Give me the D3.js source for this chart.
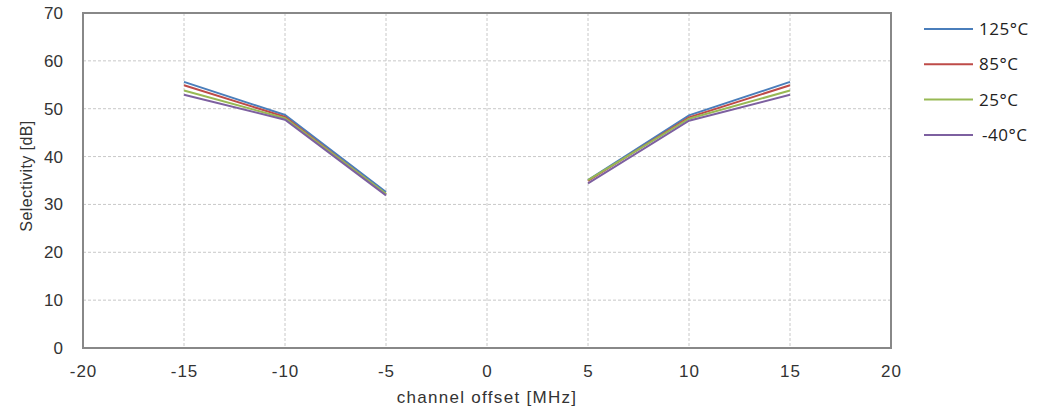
<!DOCTYPE html>
<html><head><meta charset="utf-8">
<script src="https://cdn.jsdelivr.net/npm/d3@7"></script>
<style>body{margin:0;background:#fff}</style>
</head><body>
<svg id="c" width="1051" height="409"></svg>
<script>
const offsets = [-15, -10, -5, 0, 5, 10, 15];
const series = ["125°C", "85°C", "25°C", "-40°C"];
const s125 = [55.6, 48.7, 32.6, null, 35.1, 48.6, 55.6];
const s85  = [54.9, 48.3, 32.1, null, 34.9, 48.2, 54.9];
const s25  = [53.8, 48.0, 32.2, null, 35.1, 47.9, 53.8];
const sm40 = [52.9, 47.7, 31.9, null, 34.4, 47.5, 52.9];
const xTicks = [-20, -15, -10, -5, 0, 5, 10, 15, 20];
const yTicks = [0, 10, 20, 30, 40, 50, 60, 70];
const colors = ["#4a7ebb", "#be4b48", "#98b954", "#7d60a0"];
const values = [s125, s85, s25, sm40];

const svg = d3.select("#c");
const L = 83, R = 891, T = 13, B = 348;
const x = d3.scaleLinear().domain([-20, 20]).range([L, R]);
const y = d3.scaleLinear().domain([0, 70]).range([B, T]);

// grid
svg.append("g").selectAll("line").data(yTicks.slice(1, -1)).join("line")
  .attr("x1", L).attr("x2", R).attr("y1", d => y(d)).attr("y2", d => y(d))
  .attr("stroke", "#c8c8c8").attr("stroke-dasharray", "3,2").attr("stroke-width", 1);
svg.append("g").selectAll("line").data(xTicks.slice(1, -1)).join("line")
  .attr("y1", T).attr("y2", B).attr("x1", d => x(d)).attr("x2", d => x(d))
  .attr("stroke", "#c8c8c8").attr("stroke-dasharray", "3,2").attr("stroke-width", 1);

// axes
const fontFam = "'Liberation Sans', Arial, sans-serif";
const xa = svg.append("g").attr("transform", `translate(0,${B})`)
  .call(d3.axisBottom(x).tickValues(xTicks).tickSize(0).tickPadding(17).tickFormat(d => d < 0 ? "-" + Math.abs(d) : d));
xa.select(".domain").remove();
xa.selectAll("text").attr("font-family", fontFam).attr("font-size", 17).attr("fill", "#333").attr("letter-spacing", 1);
const ya = svg.append("g").attr("transform", `translate(${L},0)`)
  .call(d3.axisLeft(y).tickValues(yTicks).tickSize(0).tickPadding(20));
ya.select(".domain").remove();
ya.selectAll("text").attr("font-family", fontFam).attr("font-size", 17).attr("fill", "#333");

// border
svg.append("rect").attr("x", L).attr("y", T).attr("width", R - L).attr("height", B - T)
  .attr("fill", "none").attr("stroke", "#888").attr("stroke-width", 2);

// lines
const line = d3.line().defined(d => d[1] !== null).x(d => x(d[0])).y(d => y(d[1]));
values.forEach((vals, i) => {
  svg.append("path").datum(offsets.map((o, j) => [o, vals[j]]))
    .attr("d", line).attr("fill", "none").attr("stroke", colors[i]).attr("stroke-width", 2);
});

// titles
svg.append("text").attr("x", x(0)).attr("y", 403).attr("text-anchor", "middle")
  .attr("font-family", fontFam).attr("font-size", 17).attr("letter-spacing", 1.3).attr("fill", "#333").text("channel offset [MHz]");
svg.append("text").attr("transform", `translate(32,${176}) rotate(-90)`).attr("text-anchor", "middle")
  .attr("font-family", fontFam).attr("font-size", 16).attr("letter-spacing", 0.4).attr("fill", "#333").text("Selectivity [dB]");

// legend
const lg = svg.append("g");
series.forEach((s, i) => {
  const yy = 29 + i * 35.3;
  lg.append("line").attr("x1", 924).attr("x2", 973).attr("y1", yy).attr("y2", yy)
    .attr("stroke", colors[i]).attr("stroke-width", 2);
  lg.append("text").attr("x", i === 3 ? 982 : 979).attr("y", yy + 6)
    .attr("font-family", "'Open Sans', sans-serif").attr("font-size", 17).attr("letter-spacing", 0.5).attr("fill", "#222").text(s);
});
</script>
</body></html>
